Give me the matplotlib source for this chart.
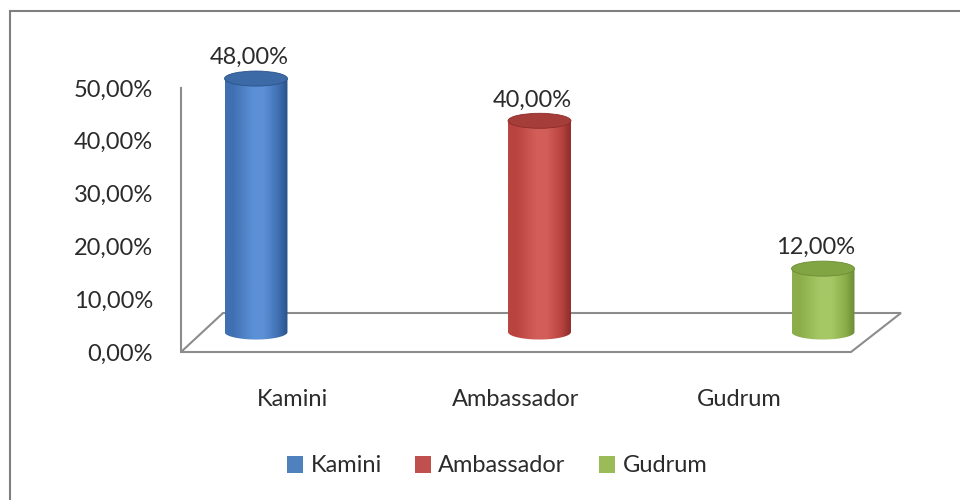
import numpy as np
import matplotlib
matplotlib.use('Agg')
import matplotlib.pyplot as plt
from matplotlib.patches import Rectangle, Ellipse, PathPatch, Patch, Polygon
from matplotlib.path import Path
from matplotlib.colors import LinearSegmentedColormap

# ---------------- data ----------------
categories = ['Kamini', 'Ambassador', 'Gudrum']
values = [48.0, 40.0, 12.0]
value_labels = ['48,00%', '40,00%', '12,00%']
y_ticks = [0, 10, 20, 30, 40, 50]
y_tick_labels = ['0,00%', '10,00%', '20,00%', '30,00%', '40,00%', '50,00%']

# ---------------- style ----------------
# (edge, light centre, darker right edge, top cap)
palette = [
    ('#3F70B2', '#5C90D6', '#2B5288', '#3C6AA6'),
    ('#B9443F', '#D35E59', '#8C2D2A', '#A53D39'),
    ('#8BAE4A', '#A6C865', '#6C8C33', '#82A543'),
]
legend_colors = ['#4F81BD', '#C0504D', '#9BBB59']
text_color = '#2b2b2b'
grid_gray = '#8c8c8c'

plt.rcParams['font.family'] = ['Lato', 'DejaVu Sans']

W, H = 960, 500
fig = plt.figure(figsize=(W / 100, H / 100), dpi=100)


def frac(l, t, r, b):
    return [l / W, 1 - b / H, (r - l) / W, (b - t) / H]


# front plane axes (value axis + category labels)
ax = fig.add_axes(frac(181, 88, 851, 352))
ax.set_xlim(-0.5, len(categories) - 0.5)
ax.set_ylim(0, 50)
for s in ['top', 'right', 'bottom']:
    ax.spines[s].set_visible(False)
ax.spines['left'].set_color(grid_gray)
ax.spines['left'].set_linewidth(1.5)
ax.set_yticks(y_ticks)
ax.set_yticklabels(y_tick_labels, fontsize=17, color=text_color)
ax.tick_params(axis='y', length=0, pad=20)
ax.set_xticks(range(len(categories)))
ax.set_xticklabels(categories, fontsize=17, color=text_color)
ax.tick_params(axis='x', length=0, pad=27)

# floor parallelogram
fx = [-0.5, len(categories) - 0.5]
front = ax.transData.transform([[fx[0], 0], [fx[1], 0]])
back = front + np.array([[42, 39], [50, 39]])
inv = ax.transData.inverted()
f_d = inv.transform(front)
b_d = inv.transform(back)
floor = Polygon([f_d[0], f_d[1], b_d[1], b_d[0]], closed=True,
                facecolor='none', edgecolor=grid_gray, linewidth=1.5,
                clip_on=False, zorder=1)
ax.add_patch(floor)

# cylinder plane axes (mid-depth of the floor); 1 unit = 5.28 px
ylo = -10
cax = fig.add_axes(frac(114.25, 68, 964.75, 332 - ylo * 5.28))
cax.axis('off')
cax.patch.set_visible(False)

bar_w = 0.222
ell_h = 2.85  # vertical size of the elliptical caps (data units)

for i, (v, lab) in enumerate(zip(values, value_labels)):
    c_edge, c_light, c_dark, c_top = palette[i]
    x0, x1 = i - bar_w / 2, i + bar_w / 2
    t = np.linspace(np.pi, 2 * np.pi, 40)
    bx = i + bar_w / 2 * np.cos(t)
    by = ell_h / 2 * np.sin(t)
    verts = [(x0, v)] + list(zip(bx, by)) + [(x1, v), (x0, v)]
    body = PathPatch(Path(verts, closed=True), facecolor='none',
                     edgecolor='none', zorder=3)
    cax.add_patch(body)
    cmap = LinearSegmentedColormap.from_list(
        'c%d' % i, [(0, c_edge), (0.12, c_edge), (0.45, c_light), (0.62, c_light),
                    (0.85, c_edge), (1, c_dark)])
    grad = np.linspace(0, 1, 200).reshape(1, -1)
    im = cax.imshow(grad, cmap=cmap, aspect='auto',
                    extent=[x0, x1, -ell_h, v], zorder=3, interpolation='bilinear')
    im.set_clip_path(body)
    cap = Ellipse((i, v), bar_w, ell_h, facecolor=c_top,
                  edgecolor=c_dark, linewidth=0.6, zorder=4)
    cax.add_patch(cap)
    cax.annotate(lab, (i, v), xytext=(-5, 15), textcoords='offset points',
                 ha='center', va='center', fontsize=17, color=text_color,
                 zorder=5)

cax.set_xlim(-0.5, len(categories) - 0.5)
cax.set_ylim(ylo, 50)

# legend
handles = [Patch(facecolor=c, edgecolor='none') for c in legend_colors]
fig.legend(handles, categories, loc='center', ncol=3,
           bbox_to_anchor=(497 / W, 1 - 466 / H), frameon=False,
           fontsize=17, handlelength=0.7, handleheight=0.7,
           handletextpad=0.3, columnspacing=1.4, labelcolor=text_color)

# chart border (extends past right / bottom edges)
fig.add_artist(Rectangle((9.5 / W, -0.1), 1.2, 1 - 11 / H + 0.1,
                         transform=fig.transFigure, facecolor='none',
                         edgecolor='#7f7f7f', linewidth=1.5))

fig.savefig('out.png', dpi=100)
